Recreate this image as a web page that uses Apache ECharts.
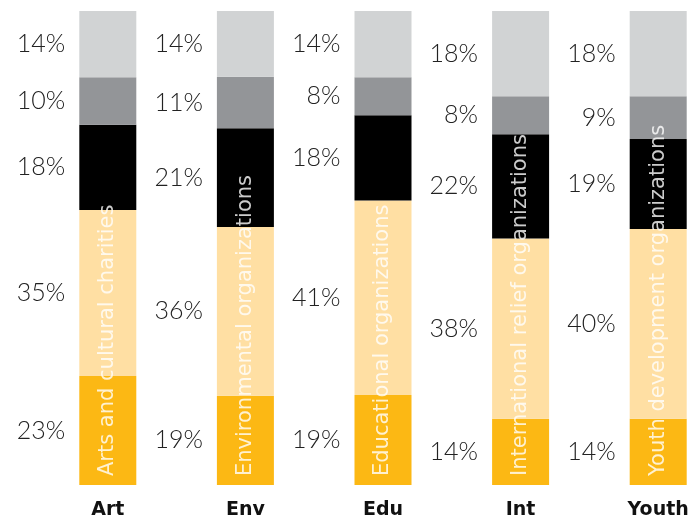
<!DOCTYPE html>
<html>
<head>
<meta charset="utf-8">
<script src="https://cdn.jsdelivr.net/npm/echarts@6/dist/echarts.min.js"></script>
<style>
  html, body { margin: 0; padding: 0; background: #fff; }
  #main { width: 688px; height: 525px; }
</style>
</head>
<body>
<div id="main"></div>
<script>
// categories
const categories = ['Art', 'Env', 'Edu', 'Int', 'Youth'];
const groupNames = [
    'Arts and cultural charities',
    'Environmental organizations',
    'Educational organizations',
    'International relief organizations',
    'Youth development organizations'
];

// segments, bottom to top (percent)
const seg1 = [23, 19, 19, 14, 14];
const seg2 = [35, 36, 41, 38, 40];
const seg3 = [18, 21, 18, 22, 19];
const seg4 = [10, 11, 8, 8, 9];
const seg5 = [14, 14, 14, 18, 18];

const segments = [seg1, seg2, seg3, seg4, seg5];
const segColors = ['#FCB814', '#FFDFA3', '#000000', '#939598', '#D1D3D4'];

// each bar fills the full height
const totals = categories.map((c, i) => segments.reduce((s, arr) => s + arr[i], 0));

var myChart = echarts.init(document.getElementById('main'));

let series = segments.map((arr, k) => ({
    name: 's' + k,
    type: 'bar',
    stack: 'total',
    barWidth: 57,
    itemStyle: { color: segColors[k] },
    label: {
        show: true,
        position: 'left',
        distance: 14,
        fontFamily: 'Lato',
        fontWeight: 300,
        fontSize: 25,
        color: '#222',
        formatter: p => arr[p.dataIndex] + '%'
    },
    data: arr.map((v, i) => v / totals[i] * 100)
}));

// rotated names inside the bars
series.push({
    type: 'scatter',
    symbolSize: 0,
    z: 10,
    silent: true,
    label: {
        show: true,
        position: 'top',
        distance: 9,
        rotate: 90,
        align: 'left',
        verticalAlign: 'middle',
        fontFamily: 'DejaVu Sans',
        fontSize: 21,
        color: '#fff',
        formatter: p => groupNames[p.dataIndex]
    },
    data: categories.map(() => 0)
});

let option = {
    animation: false,
    grid: {
        left: 39,
        right: -39,
        top: 11,
        bottom: 40,
        outerBoundsMode: 'none'
    },
    xAxis: {
        type: 'category',
        data: categories,
        axisLine: { show: false },
        axisTick: { show: false },
        axisLabel: {
            margin: 16,
            fontFamily: 'DejaVu Sans',
            fontWeight: 'bold',
            fontSize: 19,
            color: '#111'
        }
    },
    yAxis: {
        type: 'value',
        min: 0,
        max: 100,
        show: false
    },
    series: series
};

myChart.setOption(option);
</script>
</body>
</html>
